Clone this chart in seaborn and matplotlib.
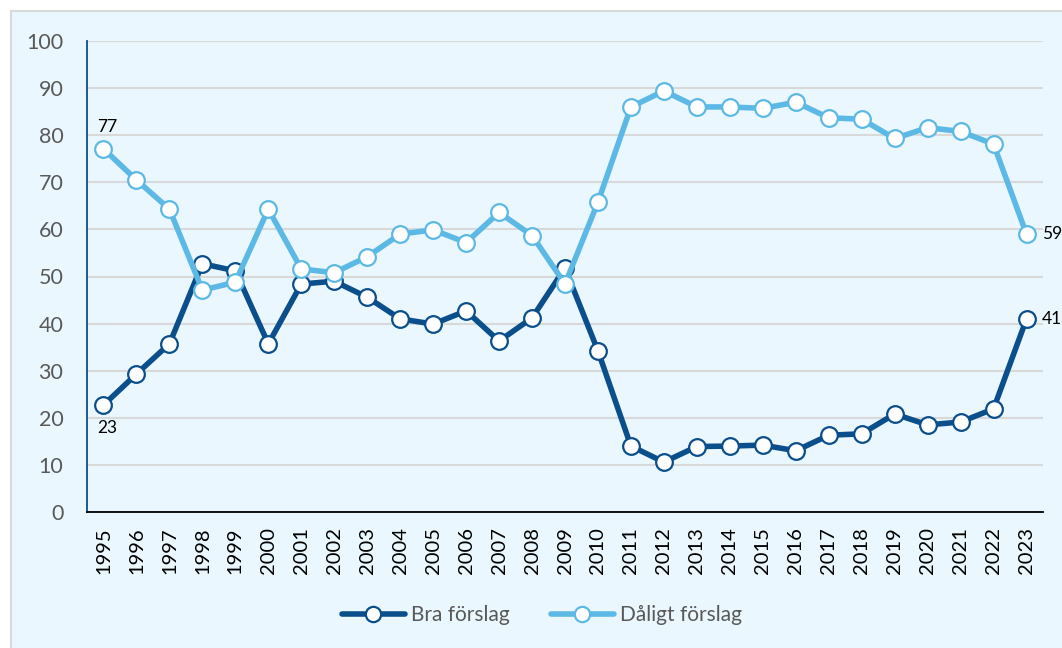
import numpy as np
import pandas as pd
import matplotlib
matplotlib.use("Agg")
import matplotlib.pyplot as plt
from matplotlib.patches import Rectangle
from matplotlib.ticker import FixedLocator
from matplotlib.lines import Line2D
import seaborn as sns

years = list(range(1995, 2024))
bra = [22.7, 29.3, 35.7, 52.7, 51.2, 35.7, 48.4, 49.0, 45.6, 41.0,
       39.9, 42.7, 36.3, 41.2, 51.8, 34.2, 14.0, 10.6, 13.9, 14.0,
       14.2, 13.0, 16.3, 16.6, 20.8, 18.5, 19.1, 21.9, 41.0]
daligt = [77.1, 70.5, 64.3, 47.1, 48.8, 64.3, 51.6, 50.8, 54.2, 59.0,
          59.9, 57.2, 63.6, 58.7, 48.4, 65.8, 86.0, 89.4, 86.0, 86.0,
          85.7, 87.0, 83.7, 83.4, 79.3, 81.6, 80.8, 78.1, 59.0]
series_names = ["Bra förslag", "Dåligt förslag"]
y_ticks = list(range(0, 101, 10))

dark = "#0A4E8B"
light = "#5CB9E5"
bg = "#EAF7FE"

sns.set_theme(style="white")
plt.rcParams["font.family"] = ["Lato", "DejaVu Sans"]

df = pd.DataFrame({
    "x": list(range(len(years))) * 2,
    "value": bra + daligt,
    "serie": [series_names[0]] * len(years) + [series_names[1]] * len(years),
})

fig = plt.figure(figsize=(10.62, 6.48), dpi=100)
fig.patch.set_facecolor("white")
card = Rectangle((11 / 1062, -0.1), 1.2, (648 - 11) / 648 + 0.1,
                 transform=fig.transFigure, facecolor=bg,
                 edgecolor="#D9D9D9", linewidth=1.5, zorder=-10)
fig.add_artist(card)

ax = fig.add_axes([87 / 1062, 1 - 512 / 648, (1043 - 87) / 1062, (512 - 41) / 648])
ax.set_facecolor(bg)
ax.set_zorder(1)

sns.lineplot(data=df, x="x", y="value", hue="serie",
             palette={series_names[0]: dark, series_names[1]: light},
             hue_order=series_names, ax=ax, linewidth=4.0, marker="o",
             markersize=12, markerfacecolor="white", markeredgewidth=1.6,
             legend=False, zorder=3)
for line, c in zip(ax.lines, [dark, light]):
    line.set_markeredgecolor(c)
    line.set_solid_joinstyle("round")
    line.set_clip_on(False)

ax.set_xlim(-0.5, len(years) - 0.5)
ax.set_ylim(0, 100)
ax.yaxis.set_major_locator(FixedLocator(y_ticks))
ax.grid(axis="y", color="#D9D9D9", linewidth=1.5, zorder=0)
ax.set_axisbelow(True)

ax.set_xticks(range(len(years)))
ax.set_xticklabels([str(y) for y in years], rotation=90, fontsize=14.5, color="black")
ax.xaxis.set_minor_locator(FixedLocator(np.arange(-0.5, len(years), 1)))
ax.tick_params(axis="x", which="major", length=0, pad=11)
ax.tick_params(axis="x", which="minor", length=7, width=1.2, color="black", direction="out")
ax.tick_params(axis="y", length=6, width=1.2, color=dark, labelsize=15.5,
               labelcolor="#595959", direction="out", pad=11)
ax.set_xlabel("")
ax.set_ylabel("")

for s in ["top", "right"]:
    ax.spines[s].set_visible(False)
ax.spines["left"].set_color(dark)
ax.spines["left"].set_linewidth(1.3)
ax.spines["bottom"].set_color("black")
ax.spines["bottom"].set_linewidth(1.3)

# data labels
lab_fs = 12.5
ax.annotate(f"{round(daligt[0])}", (0, daligt[0]), xytext=(3, 10), textcoords="offset points",
            ha="center", va="bottom", fontsize=lab_fs, color="black", annotation_clip=False)
ax.annotate(f"{round(bra[0])}", (0, bra[0]), xytext=(3, -11), textcoords="offset points",
            ha="center", va="top", fontsize=lab_fs, color="black", annotation_clip=False)
n = len(years) - 1
ax.annotate(f"{round(daligt[n])}", (n, daligt[n]), xytext=(11, 0), textcoords="offset points",
            ha="left", va="center", fontsize=lab_fs, color="black", annotation_clip=False)
ax.annotate(f"{round(bra[n])}", (n, bra[n]), xytext=(11, 0), textcoords="offset points",
            ha="left", va="center", fontsize=lab_fs, color="black", annotation_clip=False)

handles = [Line2D([], [], color=c, linewidth=4.0, marker="o", markersize=11,
                  markerfacecolor="white", markeredgecolor=c, markeredgewidth=1.6)
           for c in [dark, light]]
leg = fig.legend(handles, series_names, loc="center", bbox_to_anchor=(542 / 1062, 1 - 615 / 648),
                 ncol=2, frameon=False, fontsize=15, handlelength=3.0, columnspacing=2.0,
                 handletextpad=0.3)
for t in leg.get_texts():
    t.set_color("#595959")

fig.savefig("out.png", dpi=100, facecolor=fig.get_facecolor())
